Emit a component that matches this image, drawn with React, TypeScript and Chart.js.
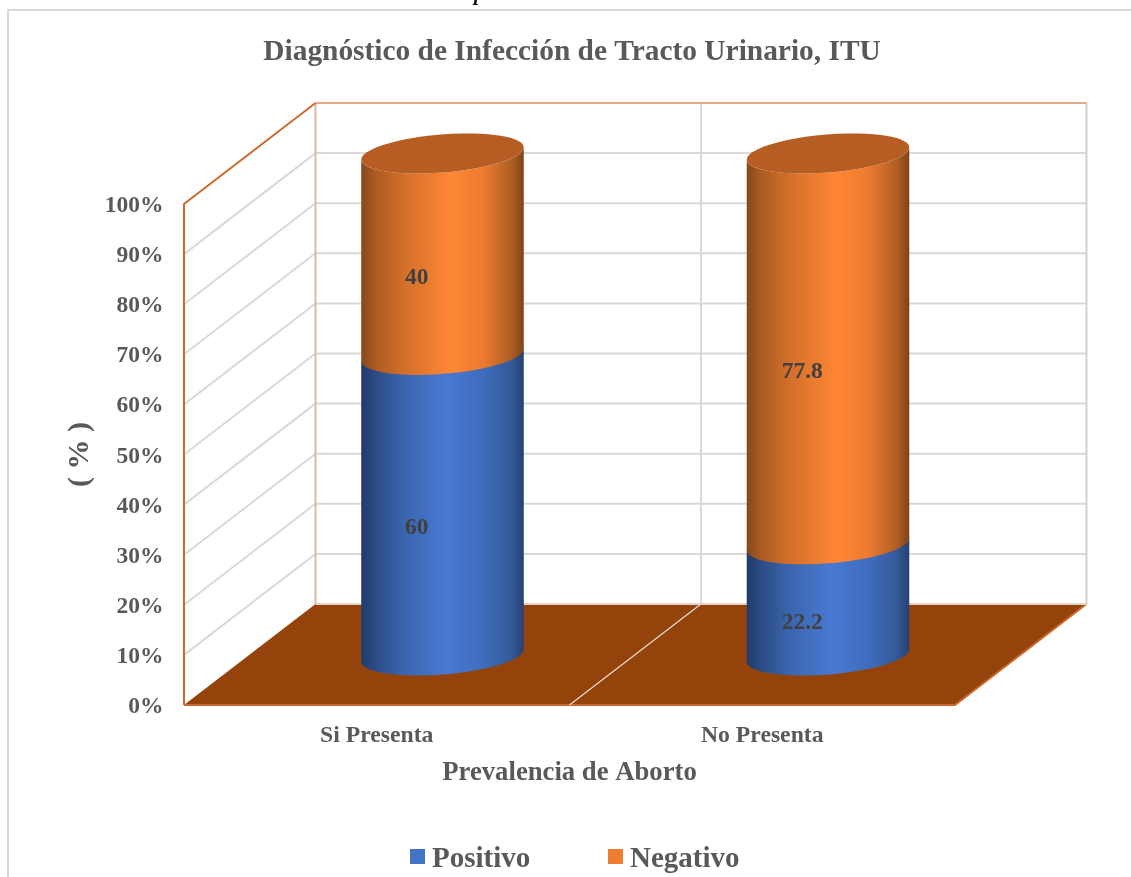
import React, { useEffect, useRef } from "react";
import { Chart, registerables } from "chart.js";

Chart.register(...registerables);

const categories = ["Si Presenta", "No Presenta"];
const positivo = [60, 22.2];
const negativo = [40, 77.8];
const yTicks = [0, 10, 20, 30, 40, 50, 60, 70, 80, 90, 100];

const SERIF = '"Liberation Serif", "Times New Roman", serif';
const TEXT = "#595959";
const GRID = "#D9D9D9";

// 3-D box depth, in pixels
const DEPTH_X = 131.5;
const DEPTH_Y = -101;

type Shade = { stops: [number, string][]; swatch: string };
const BLUE: Shade = {
  swatch: "#4472C4",
  stops: [
    [0, "#1F3A6B"],
    [0.08, "#2B4A84"],
    [0.25, "#3A64AB"],
    [0.52, "#4979D3"],
    [0.75, "#3F6CBB"],
    [0.92, "#345A9B"],
    [1, "#27416F"],
  ],
};
const ORANGE: Shade = {
  swatch: "#ED7D31",
  stops: [
    [0, "#84481A"],
    [0.08, "#A95A22"],
    [0.25, "#D06E2A"],
    [0.55, "#FF8734"],
    [0.75, "#EC7A30"],
    [0.92, "#B05F25"],
    [1, "#7E4317"],
  ],
};
const shades = [BLUE, ORANGE];

const CYL_TILT = -0.08;
const CYL_MINOR = 19;

function arcPath(ctx: CanvasRenderingContext2D, cx: number, cy: number, a: number, from: number, to: number, lineStart: boolean) {
  const steps = 48;
  const cr = Math.cos(CYL_TILT);
  const sr = Math.sin(CYL_TILT);
  for (let i = 0; i <= steps; i++) {
    const t = from + ((to - from) * i) / steps;
    const px = a * Math.cos(t);
    const py = CYL_MINOR * Math.sin(t);
    const x = cx + px * cr - py * sr;
    const y = cy + px * sr + py * cr;
    if (i === 0 && !lineStart) ctx.moveTo(x, y);
    else ctx.lineTo(x, y);
  }
}

function drawBox(chart: any) {
  const ctx: CanvasRenderingContext2D = chart.ctx;
  const { left: L, right: R } = chart.chartArea;
  const y = chart.scales.y;
  const x = chart.scales.x;
  const top = y.getPixelForValue(100);
  const bot = y.getPixelForValue(0);
  const dx = DEPTH_X;
  const dy = DEPTH_Y;
  ctx.save();

  // outer chart frame
  ctx.strokeStyle = GRID;
  ctx.lineWidth = 2;
  ctx.strokeRect(8, 10, 1400, 1200);

  // gridlines on side and back walls
  ctx.lineWidth = 2;
  ctx.strokeStyle = GRID;
  yTicks.forEach((v) => {
    if (v === 0 || v === 100) return;
    const p = y.getPixelForValue(v);
    ctx.beginPath();
    ctx.moveTo(L, p);
    ctx.lineTo(L + dx, p + dy);
    ctx.lineTo(R + dx, p + dy);
    ctx.stroke();
  });

  // category divider on back wall
  const mid = (x.getPixelForValue(0) + x.getPixelForValue(1)) / 2;
  ctx.beginPath();
  ctx.moveTo(mid + dx, top + dy);
  ctx.lineTo(mid + dx, bot + dy);
  ctx.stroke();

  // back wall edges
  ctx.strokeStyle = "#DDB9A2";
  ctx.beginPath();
  ctx.moveTo(L + dx, top + dy);
  ctx.lineTo(L + dx, bot + dy);
  ctx.stroke();
  ctx.strokeStyle = "#DCCFC6";
  ctx.beginPath();
  ctx.moveTo(R + dx, top + dy);
  ctx.lineTo(R + dx, bot + dy);
  ctx.stroke();
  ctx.strokeStyle = "#E6A988";
  ctx.beginPath();
  ctx.moveTo(L + dx, top + dy);
  ctx.lineTo(R + dx, top + dy);
  ctx.stroke();

  // floor
  ctx.fillStyle = "#94440A";
  ctx.strokeStyle = "#C9692C";
  ctx.beginPath();
  ctx.moveTo(L, bot);
  ctx.lineTo(L + dx, bot + dy);
  ctx.lineTo(R + dx, bot + dy);
  ctx.lineTo(R, bot);
  ctx.closePath();
  ctx.fill();
  ctx.beginPath();
  ctx.moveTo(L, bot);
  ctx.lineTo(R, bot);
  ctx.lineTo(R + dx, bot + dy);
  ctx.stroke();
  ctx.strokeStyle = "#E3D2C6";
  ctx.beginPath();
  ctx.moveTo(L + dx, bot + dy);
  ctx.lineTo(R + dx, bot + dy);
  ctx.stroke();

  // divider on the floor
  ctx.strokeStyle = "#E4DDD8";
  ctx.lineWidth = 1.2;
  ctx.beginPath();
  ctx.moveTo(mid + dx, bot + dy);
  ctx.lineTo(mid, bot);
  ctx.stroke();

  // side wall front edge
  ctx.lineWidth = 2;
  ctx.strokeStyle = "#CC6C2C";
  ctx.beginPath();
  ctx.moveTo(L, bot);
  ctx.lineTo(L, top);
  ctx.lineTo(L + dx, top + dy);
  ctx.stroke();
  ctx.restore();
}

function drawCylinders(chart: any) {
  const ctx: CanvasRenderingContext2D = chart.ctx;
  const last = chart.data.datasets.length - 1;
  chart.data.datasets.forEach((_: any, di: number) => {
    const meta = chart.getDatasetMeta(di);
    meta.data.forEach((bar: any) => {
      const cx = bar.x + DEPTH_X / 2;
      const hw = bar.width / 2;
      const yTop = bar.y + DEPTH_Y / 2;
      const yBase = bar.base + DEPTH_Y / 2;
      const g = ctx.createLinearGradient(cx - hw, 0, cx + hw, 0);
      shades[di].stops.forEach(([o, c]) => g.addColorStop(o, c));
      ctx.save();
      ctx.fillStyle = g;
      ctx.beginPath();
      arcPath(ctx, cx, yBase + 1, hw, Math.PI, 0, false);
      arcPath(ctx, cx, yTop, hw, 0, Math.PI, true);
      ctx.closePath();
      ctx.fill();
      if (di === last) {
        ctx.fillStyle = "#B55D22";
        ctx.beginPath();
        arcPath(ctx, cx, yTop, hw, 0, Math.PI * 2, false);
        ctx.closePath();
        ctx.fill();
      }
      ctx.restore();
    });
  });
}

function drawLabels(chart: any) {
  const ctx: CanvasRenderingContext2D = chart.ctx;
  ctx.save();
  ctx.font = `bold 23.5px ${SERIF}`;
  ctx.fillStyle = "#404040";
  ctx.textAlign = "center";
  ctx.textBaseline = "middle";
  chart.data.datasets.forEach((ds: any, di: number) => {
    chart.getDatasetMeta(di).data.forEach((bar: any, i: number) => {
      ctx.fillText(String(ds.data[i]), bar.x + 40, (bar.y + bar.base) / 2 - 26.5);
    });
  });
  ctx.restore();
}

const legendBoxX = [410, 608];
const legendTextX = [432, 630];

function drawLegend(chart: any) {
  const ctx: CanvasRenderingContext2D = chart.ctx;
  ctx.save();
  ctx.font = `bold 29px ${SERIF}`;
  ctx.textAlign = "left";
  ctx.textBaseline = "alphabetic";
  chart.data.datasets.forEach((ds: any, di: number) => {
    ctx.fillStyle = ds.backgroundColor;
    ctx.fillRect(legendBoxX[di], 849, 15, 15);
    ctx.fillStyle = TEXT;
    ctx.fillText(ds.label, legendTextX[di], 866.5);
  });
  ctx.restore();
}

function drawHeaderFragment(chart: any) {
  const ctx: CanvasRenderingContext2D = chart.ctx;
  ctx.save();
  ctx.font = `italic bold 21px ${SERIF}`;
  ctx.fillStyle = "#111111";
  ctx.textAlign = "left";
  ctx.textBaseline = "alphabetic";
  ctx.fillText("p", 474, 0);
  ctx.restore();
}

const cylinderPlugin = {
  id: "cylinder3d",
  beforeDatasetsDraw(chart: any) {
    drawHeaderFragment(chart);
    drawBox(chart);
    drawCylinders(chart);
  },
  beforeDatasetDraw() {
    return false;
  },
  afterDatasetsDraw(chart: any) {
    drawLabels(chart);
    drawLegend(chart);
  },
};

export default function App() {
  const ref = useRef<HTMLCanvasElement>(null);
  useEffect(() => {
    document.body.style.margin = "0";
    const chart = new Chart(ref.current as HTMLCanvasElement, {
      type: "bar",
      data: {
        labels: categories,
        datasets: [
          { label: "Positivo", data: positivo, backgroundColor: BLUE.swatch, barPercentage: 0.423, categoryPercentage: 1 },
          { label: "Negativo", data: negativo, backgroundColor: ORANGE.swatch, barPercentage: 0.423, categoryPercentage: 1 },
        ],
      },
      options: {
        animation: false,
        responsive: false,
        layout: { padding: { left: 13, top: 10, right: 0, bottom: 0 } },
        plugins: {
          legend: { display: false },
          tooltip: { enabled: false },
          title: {
            display: true,
            text: "Diagnóstico de Infección de Tracto Urinario, ITU",
            color: TEXT,
            font: { family: SERIF, size: 29.4, weight: "bold", lineHeight: 1.2 },
            padding: { top: 24.4, bottom: 134.3 },
          },
        },
        scales: {
          x: {
            stacked: true,
            grid: { display: false, drawTicks: false, tickLength: 0 },
            border: { display: false },
            ticks: { color: TEXT, font: { family: SERIF, size: 23.7, weight: "bold" }, padding: 17, maxRotation: 0 },
            title: {
              display: true,
              text: "Prevalencia de Aborto",
              color: TEXT,
              font: { family: SERIF, size: 26.7, weight: "bold", lineHeight: 1.2 },
              padding: { top: 0, bottom: 88 },
            },
            afterFit(s: any) {
              s.height = 172;
            },
          },
          y: {
            stacked: true,
            min: 0,
            max: 100,
            grid: { display: false, drawTicks: false, tickLength: 0 },
            border: { display: false },
            afterBuildTicks(s: any) {
              s.ticks = yTicks.map((value) => ({ value }));
            },
            ticks: {
              color: TEXT,
              font: { family: SERIF, size: 23.5, weight: "bold" },
              padding: 20.5,
              labelOffset: 2,
              callback: (v: any) => `${v}%`,
            },
            title: {
              display: true,
              text: "( % )",
              color: TEXT,
              font: { family: SERIF, size: 30, weight: "bold", lineHeight: 1.2 },
              padding: { top: 49, bottom: 0 },
            },
            afterFit(s: any) {
              s.width = 171;
            },
          },
          yRight: {
            position: "right",
            display: true,
            grid: { display: false, drawTicks: false, tickLength: 0 },
            border: { display: false },
            ticks: { display: false },
            afterFit(s: any) {
              s.width = 176;
            },
          },
        },
      } as any,
      plugins: [cylinderPlugin],
    });
    return () => chart.destroy();
  }, []);
  return <canvas ref={ref} width={1131} height={877} style={{ display: "block" }} />;
}
